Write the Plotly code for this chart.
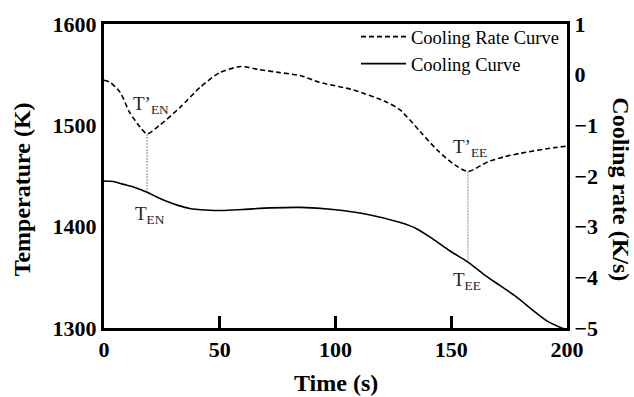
import plotly.graph_objects as go

# ---- data ----
time_rate = [0, 2.6, 7, 11, 15.5, 18.6, 24, 33, 41.5, 50, 59, 67, 76, 85, 93,
             107.6, 122, 128, 136.7, 144, 151.5, 157.2, 165.8, 173, 180, 194.6, 200]
cooling_rate = [-0.11, -0.15, -0.35, -0.74, -1.03, -1.17, -1.0, -0.64, -0.25, 0.04,
                0.16, 0.10, 0.04, -0.02, -0.15, -0.30, -0.54, -0.70, -1.13, -1.49,
                -1.78, -1.91, -1.72, -1.62, -1.55, -1.44, -1.41]

time_temp = [0, 4, 8, 13, 18.6, 23, 27, 32, 37, 44, 51, 60, 72, 85, 99, 114, 128,
             135, 142, 149.5, 157.2, 164, 171, 178, 185, 192, 200]
temperature = [1445, 1444.5, 1442, 1439, 1434, 1429, 1425, 1421, 1418, 1416.5, 1416,
               1417, 1418.5, 1419, 1417, 1412, 1404, 1398, 1388, 1376, 1365, 1353,
               1342, 1331, 1318, 1306, 1298]

event_times = [18.6, 157.2]          # T_EN, T_EE
event_rates = [-1.17, -1.91]          # T'_EN, T'_EE
event_temps = [1434, 1365]

x_ticks = [0, 50, 100, 150, 200]
y_ticks = [1300, 1400, 1500, 1600]
y2_ticks = [1, 0, -1, -2, -3, -4, -5]

T_RANGE = [1300, 1600]
R_RANGE = [-5, 1]


def rate_to_temp_axis(r):
    return T_RANGE[0] + (r - R_RANGE[0]) * (T_RANGE[1] - T_RANGE[0]) / (R_RANGE[1] - R_RANGE[0])


FONT = "Liberation Serif"

fig = go.Figure()

# dotted vertical guide lines
for t, r, temp in zip(event_times, event_rates, event_temps):
    fig.add_trace(go.Scatter(x=[t, t], y=[rate_to_temp_axis(r), temp], mode="lines",
                             line=dict(color="#888888", width=1, dash="2px,1px"),
                             showlegend=False, hoverinfo="skip"))

fig.add_trace(go.Scatter(x=time_rate, y=cooling_rate, yaxis="y2", mode="lines",
                         name="Cooling Rate Curve",
                         line=dict(color="black", width=1.6, dash="5px,3px",
                                   shape="spline", smoothing=0.7)))
fig.add_trace(go.Scatter(x=time_temp, y=temperature, mode="lines",
                         name="Cooling Curve",
                         line=dict(color="black", width=1.6, shape="spline", smoothing=0.8)))

lbl_font = dict(family=FONT, size=19, color="#222222")
annotations = [
    dict(x=20.3, y=1520, xref="x", yref="y", text="T’<sub>EN</sub>", showarrow=False, font=lbl_font),
    dict(x=20.0, y=1412, xref="x", yref="y", text="T<sub>EN</sub>", showarrow=False, font=lbl_font),
    dict(x=158.0, y=1478, xref="x", yref="y", text="T’<sub>EE</sub>", showarrow=False, font=lbl_font),
    dict(x=157.0, y=1346, xref="x", yref="y", text="T<sub>EE</sub>", showarrow=False, font=lbl_font),
    dict(x=22, y=188, xref="paper", yref="paper", text="<b>Temperature (K)</b>", showarrow=False,
         textangle=-90, font=dict(family=FONT, size=24, color="black")),
    dict(x=621, y=188, xref="paper", yref="paper", text="<b>Cooling rate (K/s)</b>", showarrow=False,
         textangle=90, font=dict(family=FONT, size=24, color="black")),
    dict(x=336, y=384, xref="paper", yref="paper", text="<b>Time (s)</b>", showarrow=False,
         font=dict(family=FONT, size=24, color="black")),
]
# convert pixel positions to paper coordinates
L, R, T, B = 104, 67, 21, 69
W, H = 634, 397
pw, ph = W - L - R, H - T - B
for a in annotations:
    if a["xref"] == "paper":
        a["x"] = (a["x"] - L) / pw
        a["y"] = 1 - (a["y"] - T) / ph
        a["xanchor"] = "center"
        a["yanchor"] = "middle"

tick_font = dict(family=FONT, size=22, color="black", weight="bold")

fig.update_layout(
    width=W, height=H,
    margin=dict(l=L, r=R, t=T, b=B),
    paper_bgcolor="white", plot_bgcolor="white",
    showlegend=True,
    legend=dict(x=(356 - L) / pw, y=1 - (15 - T) / ph, xanchor="left", yanchor="top",
                itemwidth=45,
                bgcolor="rgba(0,0,0,0)", font=dict(family=FONT, size=18.5, color="black"),
                traceorder="normal", tracegroupgap=0),
    xaxis=dict(range=[0, 200], tickvals=x_ticks, ticks="inside", ticklen=12, tickwidth=2.5,
               tickcolor="black", showline=True, linewidth=3, linecolor="black", mirror=True,
               showgrid=False, zeroline=False, tickfont=tick_font),
    yaxis=dict(range=T_RANGE, tickvals=y_ticks, ticks="", showline=True, linewidth=3,
               linecolor="black", showgrid=False, zeroline=False, tickfont=tick_font,
               ticklabelstandoff=0),
    yaxis2=dict(range=R_RANGE, tickvals=y2_ticks, overlaying="y", side="right", ticks="",
                showline=True, linewidth=3, linecolor="black", showgrid=False, zeroline=False,
                tickfont=tick_font),
    annotations=annotations,
)

fig.write_html("out.html")
